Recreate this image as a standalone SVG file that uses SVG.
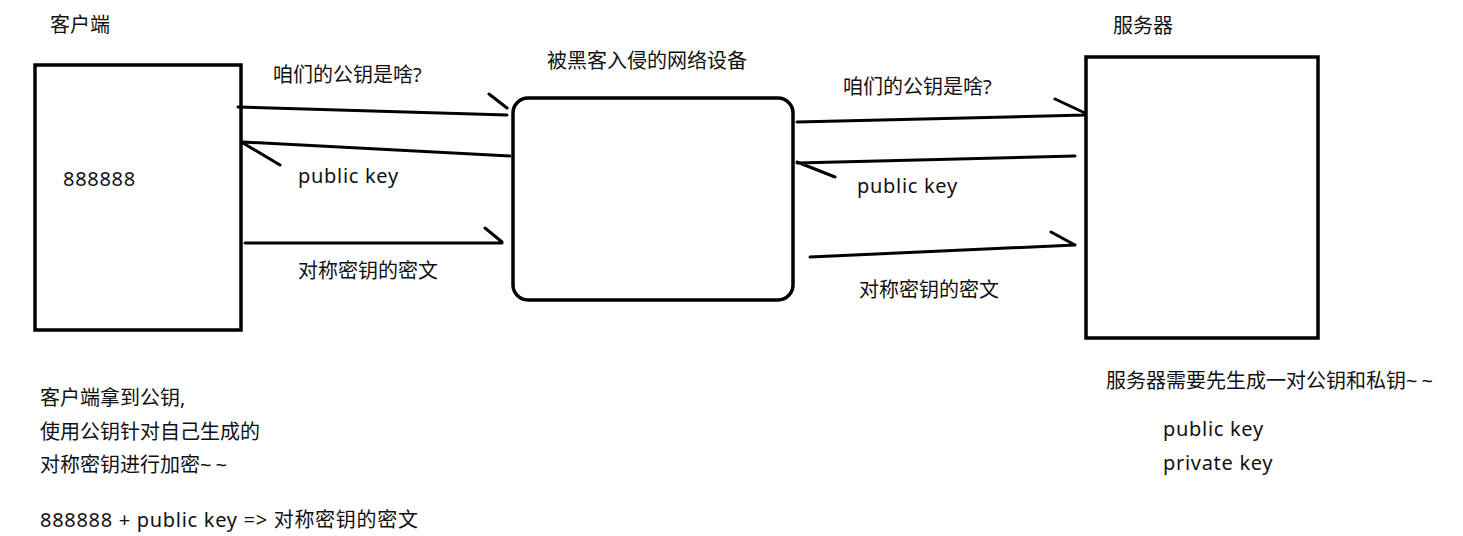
<svg xmlns="http://www.w3.org/2000/svg" width="1463" height="536" viewBox="0 0 1463 536">
<style>
.box{fill:#fff;stroke:#000;stroke-width:3.5}
.conn{fill:none;stroke:#000;stroke-width:3;stroke-linecap:round}
text{font-family:"Noto Sans","Noto Sans CJK SC",sans-serif;font-size:20px;fill:#111}
.lat{letter-spacing:0.7px}
.tl{letter-spacing:4px}
</style>
<rect width="1463" height="536" fill="#fff"/>
<g id="client">
<rect class="box" x="35" y="65" width="206" height="265"/>
<text x="50" y="32">客户端</text>
<text class="lat" x="63" y="186">888888</text>
</g>
<g id="device">
<rect class="box" x="513" y="98" width="280" height="202" rx="15" ry="15"/>
<text x="547" y="68">被黑客入侵的网络设备</text>
</g>
<g id="server">
<rect class="box" x="1086" y="57" width="232" height="281"/>
<text x="1113" y="33">服务器</text>
</g>
<g id="connectors">
<path class="conn" d="M238,107 L507,115 M489,94 L507,108"/>
<path class="conn" d="M510,156 L243,142 M243,143 L280,165"/>
<path class="conn" d="M245,243 L502,243 M485,228 L502,242"/>
<path class="conn" d="M797,122 L1085,115 M1055,99 L1085,113"/>
<path class="conn" d="M1075,156 L797,163 M797,162 L835,177"/>
<path class="conn" d="M810,257 L1075,245 M1051,232 L1075,245"/>
</g>
<g id="labels">
<text x="273" y="82">咱们的公钥是啥?</text>
<text class="lat" x="298" y="183">public key</text>
<text x="298" y="278">对称密钥的密文</text>
<text x="843" y="94">咱们的公钥是啥?</text>
<text class="lat" x="857" y="193">public key</text>
<text x="859" y="297">对称密钥的密文</text>
</g>
<g id="notes">
<text x="40" y="405">客户端拿到公钥,</text>
<text x="40" y="439">使用公钥针对自己生成的</text>
<text x="40" y="472">对称密钥进行加密<tspan class="tl">~~</tspan></text>
<text class="lat" x="40" y="527">888888 + public key =&gt; 对称密钥的密文</text>
<text x="1106" y="388">服务器需要先生成一对公钥和私钥<tspan class="tl">~~</tspan></text>
<text class="lat" x="1163" y="436">public key</text>
<text class="lat" x="1163" y="470">private key</text>
</g>
</svg>
